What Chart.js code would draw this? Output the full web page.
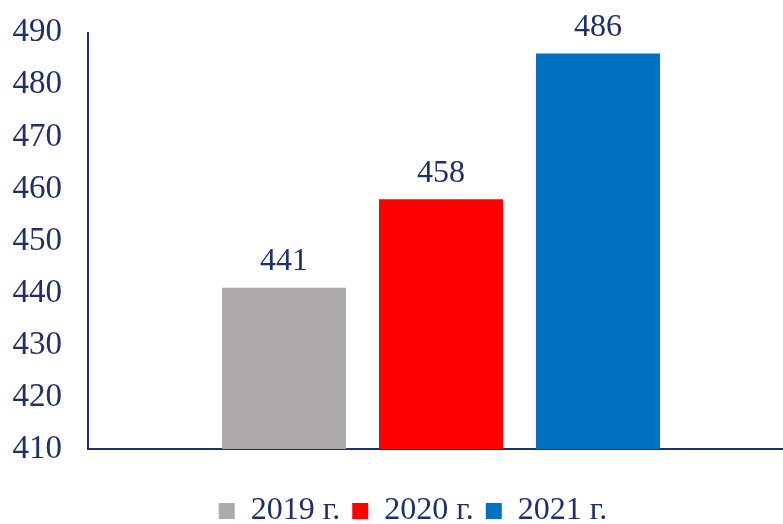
<!DOCTYPE html>
<html>
<head>
<meta charset="utf-8">
<script src="https://cdn.jsdelivr.net/npm/chart.js@4/dist/chart.umd.min.js"></script>
<style>
  html, body { margin: 0; padding: 0; background: #fff; overflow: hidden; }
  #wrap { width: 783px; height: 524px; overflow: hidden; }
  #myChart { display: block; margin-top: -5px; }
</style>
</head>
<body>
<div id="wrap"><canvas id="myChart" width="794" height="542"></canvas></div>
<script>
var years = ["2019 г.", "2020 г.", "2021 г."];
var values = [441, 458, 486];
var colors = ["#AEAAAA", "#FF0000", "#0070C0"];
var yTicks = [410, 420, 430, 440, 450, 460, 470, 480, 490];

var navy = "#1F2F6B";
var serif = "'Liberation Serif', 'Times New Roman', serif";

// value labels over the bars
var barLabels = {
  id: "barLabels",
  afterDatasetsDraw: function(chart) {
    var c = chart.ctx;
    c.save();
    c.font = "32px " + serif;
    c.fillStyle = navy;
    c.textAlign = "center";
    c.textBaseline = "middle";
    chart.data.datasets.forEach(function(ds, i) {
      var bar = chart.getDatasetMeta(i).data[0];
      c.fillText(ds.data[0], bar.x, bar.y - 26);
    });
    c.restore();
  }
};

// legend sits a bit right of centre in the original
var legendShift = {
  id: "legendShift",
  afterLayout: function(chart) {
    chart.legend.left += 16;
    chart.legend.right += 16;
  }
};

var datasets = years.map(function(y, i) {
  return {
    label: y,
    data: [values[i]],
    backgroundColor: colors[i],
    categoryPercentage: 0.667,
    barPercentage: 0.79
  };
});

var ctx = document.getElementById("myChart").getContext("2d");
var chart = new Chart(ctx, {
  type: "bar",
  data: { labels: [""], datasets: datasets },
  plugins: [barLabels, legendShift],
  options: {
    responsive: false,
    animation: false,
    layout: { padding: { top: 0, right: 0, left: 0, bottom: 0 } },
    plugins: {
      tooltip: { enabled: false },
      legend: {
        position: "bottom",
        labels: {
          font: { family: serif, size: 32 },
          color: navy,
          boxWidth: 16,
          boxHeight: 16,
          padding: 12
        }
      }
    },
    scales: {
      x: {
        afterFit: function(scale) { scale.height = 34; },
        grid: { display: false },
        border: { display: true, color: navy, width: 2 },
        ticks: { display: false }
      },
      y: {
        min: yTicks[0],
        max: yTicks[yTicks.length - 1],
        afterBuildTicks: function(scale) {
          scale.ticks = yTicks.map(function(v) { return { value: v }; });
        },
        afterFit: function(scale) { scale.width = 88; },
        grid: { display: false },
        border: { display: true, color: navy, width: 2 },
        ticks: {
          font: { family: serif, size: 33 },
          color: navy,
          padding: 18
        }
      }
    }
  }
});
</script>
</body>
</html>
